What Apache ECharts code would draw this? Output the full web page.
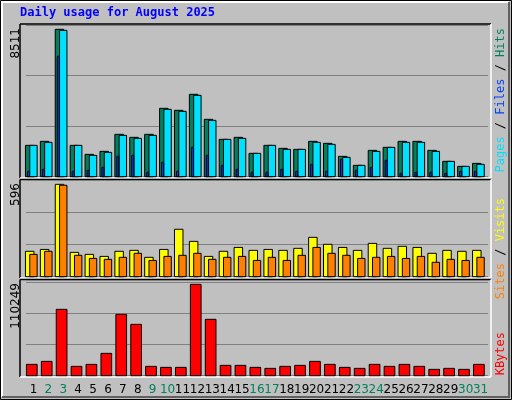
<!DOCTYPE html>
<html>
<head>
<meta charset="utf-8">
<script src="https://cdn.jsdelivr.net/npm/echarts@6/dist/echarts.min.js"></script>
<style>
  html, body { margin: 0; padding: 0; background: #c0c0c0; }
  #main { width: 512px; height: 400px; }
</style>
</head>
<body>
<div id="main"></div>
<script>
var days = [];
for (var d = 1; d <= 31; d++) days.push(String(d));
var weekendDays = ['2', '3', '9', '10', '16', '17', '23', '24', '30', '31'];

var hits = [1810,2041,8511,1810,1290,1464,2446,2273,2446,3948,3833,4757,3313,2157,2273,1348,1810,1637,1579,2041,1926,1175,655,1521,1695,2041,2041,1521,886,597,770];
var files = [1810,1984,8450,1810,1233,1406,2388,2215,2388,3890,3775,4699,3255,2157,2215,1348,1810,1579,1579,1984,1868,1117,655,1464,1695,1984,1984,1464,886,597,713];
var pages = [308,424,6953,308,366,539,1175,1233,250,828,308,1695,1233,655,424,250,250,424,308,713,308,1002,366,539,944,193,250,250,193,308,308];
var visits = [164,176,596,157,144,131,164,170,125,176,306,228,131,164,189,170,176,170,183,254,209,189,170,215,183,196,189,151,170,164,170];
var sites = [144,164,590,138,118,112,125,151,105,131,138,151,112,125,131,105,125,105,138,189,151,138,118,125,131,118,131,93,112,105,125];
var kbytes = [13682,17303,80078,11267,13682,26961,74042,61970,11267,10060,10060,110249,68006,12474,12474,10060,8853,11267,12474,17303,13682,10060,8853,13682,11267,13682,11267,7646,8853,7646,13682];

var maxHits = 8511, maxVisits = 596, maxKB = 110249;

// rect helper: x offsets are relative to the category centre, in px
function bar(api, idx, val, x0, x1, color) {
    var base = api.coord([idx, 0]);
    var top = api.coord([idx, val]);
    return {
        type: 'rect',
        shape: { x: base[0] + x0, y: top[1], width: x1 - x0, height: base[1] - top[1] },
        style: { fill: color, stroke: '#000', lineWidth: 1 }
    };
}

function topItem(params, api) {
    var i = api.value(0);
    return { type: 'group', children: [
        bar(api, i, api.value(1), -8, 0.5, '#00805c'),
        bar(api, i, api.value(2), -3.7, 3.7, '#00e0ff'),
        bar(api, i, api.value(3), -6, -4, '#0040ff')
    ]};
}
function midItem(params, api) {
    var i = api.value(0);
    return { type: 'group', children: [
        bar(api, i, api.value(1), -8, 0.5, '#ffff00'),
        bar(api, i, api.value(2), -3.7, 3.7, '#ff8000')
    ]};
}
function botItem(params, api) {
    var i = api.value(0);
    return { type: 'group', children: [
        bar(api, i, api.value(1), -7, 3.7, '#ff0000')
    ]};
}

var topData = days.map(function (d, i) { return [i, hits[i], files[i], pages[i]]; });
var midData = days.map(function (d, i) { return [i, visits[i], sites[i]]; });
var botData = days.map(function (d, i) { return [i, kbytes[i]]; });

var grids = [
    { left: 26, right: 24, top: 25, height: 151.7 },
    { left: 26, right: 24, top: 180.3, height: 96.4 },
    { left: 26, right: 24, top: 280, height: 95.7 }
];

function xAx(gi, show) {
    return {
        type: 'category', gridIndex: gi, data: days,
        axisLine: { show: false }, axisTick: { show: false },
        axisLabel: {
            show: show, margin: 8, interval: 0,
            fontFamily: 'DejaVu Sans', fontSize: 12,
            formatter: function (v) {
                return weekendDays.indexOf(v) >= 0 ? '{g|' + v + '}' : '{k|' + v + '}';
            },
            rich: { g: { color: '#00805c', fontSize: 12 }, k: { color: '#000', fontSize: 12 } }
        }
    };
}
function yAx(gi, max, interval) {
    return {
        type: 'value', gridIndex: gi, min: 0, max: max, interval: interval,
        axisLabel: { show: false }, axisLine: { show: false }, axisTick: { show: false },
        splitLine: { lineStyle: { color: '#808080', width: 1 } }
    };
}

function frame(y0, y1) {
    return [
        { type: 'line', shape: { x1: 20, y1: y0, x2: 491, y2: y0 }, style: { stroke: '#000', lineWidth: 1.5 } },
        { type: 'line', shape: { x1: 20, y1: y0, x2: 20, y2: y1 }, style: { stroke: '#000', lineWidth: 1.5 } },
        { type: 'line', shape: { x1: 20, y1: y1, x2: 491, y2: y1 }, style: { stroke: '#fff', lineWidth: 1.5 } },
        { type: 'line', shape: { x1: 491, y1: y0, x2: 491, y2: y1 }, style: { stroke: '#fff', lineWidth: 1.5 } }
    ];
}

var f12 = '12px "DejaVu Sans Mono"';
var graphics = [
    { type: 'rect', shape: { x: 0.5, y: 0.5, width: 511, height: 399 }, style: { fill: 'none', stroke: '#000', lineWidth: 1 }, z: -1 },
    { type: 'polyline', shape: { points: [[2, 397], [2, 2], [509, 2]] }, style: { stroke: '#fff', lineWidth: 2, fill: 'none' } },
    { type: 'polyline', shape: { points: [[2, 397], [509, 397], [509, 2]] }, style: { stroke: '#606060', lineWidth: 2, fill: 'none' } },
    { type: 'text', left: 20, top: 7, style: { text: 'Daily usage for August 2025', font: 'bold 12px "DejaVu Sans Mono"', fill: '#0000ff' } },
    { type: 'text', x: 10, y: 28, rotation: Math.PI / 2, style: { text: String(maxHits), font: '12px "DejaVu Sans"', fill: '#000', align: 'right', verticalAlign: 'top' } },
    { type: 'text', x: 10, y: 183, rotation: Math.PI / 2, style: { text: String(maxVisits), font: '12px "DejaVu Sans"', fill: '#000', align: 'right', verticalAlign: 'top' } },
    { type: 'text', x: 10, y: 283, rotation: Math.PI / 2, style: { text: String(maxKB), font: '12px "DejaVu Sans"', fill: '#000', align: 'right', verticalAlign: 'top' } },
    { type: 'text', x: 495, y: 28, rotation: Math.PI / 2, style: {
        text: '{c|Pages}{k| / }{b|Files}{k| / }{g|Hits}', align: 'right', verticalAlign: 'top', font: f12,
        rich: { c: { fill: '#00e0ff', font: f12 }, k: { fill: '#000', font: f12 },
                b: { fill: '#0040ff', font: f12 }, g: { fill: '#00805c', font: f12 } } } },
    { type: 'text', x: 495, y: 198, rotation: Math.PI / 2, style: {
        text: '{o|Sites}{k| / }{y|Visits}', align: 'right', verticalAlign: 'top', font: f12,
        rich: { o: { fill: '#ff8000', font: f12 }, k: { fill: '#000', font: f12 },
                y: { fill: '#ffff00', font: f12 } } } },
    { type: 'text', x: 495, y: 332, rotation: Math.PI / 2, style: { text: 'KBytes', font: f12, fill: '#ff0000', align: 'right', verticalAlign: 'top' } }
].concat(frame(24, 178), frame(179.5, 278), frame(279.5, 377));

var option = {
    backgroundColor: '#c0c0c0',
    animation: false,
    grid: grids,
    xAxis: [xAx(0, false), xAx(1, false), xAx(2, true)],
    yAxis: [yAx(0, 8760, 2920), yAx(1, 622, 207), yAx(2, 115480, 37400)],
    series: [
        { type: 'custom', xAxisIndex: 0, yAxisIndex: 0, renderItem: topItem, data: topData },
        { type: 'custom', xAxisIndex: 1, yAxisIndex: 1, renderItem: midItem, data: midData },
        { type: 'custom', xAxisIndex: 2, yAxisIndex: 2, renderItem: botItem, data: botData }
    ],
    graphic: graphics
};

var chart = echarts.init(document.getElementById('main'));
chart.setOption(option);
</script>
</body>
</html>
